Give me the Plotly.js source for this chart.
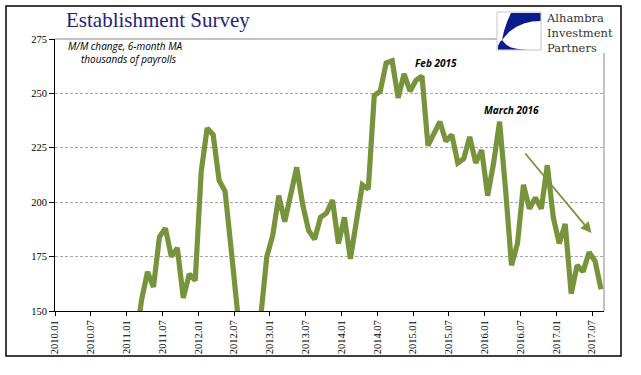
<!DOCTYPE html>
<html>
<head>
<meta charset="utf-8">
<script src="https://cdn.plot.ly/plotly-3.0.1.min.js"></script>
<style>
  html, body { margin: 0; padding: 0; background: #fff; }
  #chart { width: 641px; height: 375px; }
</style>
</head>
<body>
<div id="chart"></div>
<script>
// ---- Data ----
const months = [
  '2011.02','2011.03','2011.04','2011.05','2011.06','2011.07','2011.08','2011.09','2011.10','2011.11','2011.12',
  '2012.01','2012.02','2012.03','2012.04','2012.05','2012.06','2012.07','2012.08','2012.09','2012.10','2012.11','2012.12',
  '2013.01','2013.02','2013.03','2013.04','2013.05','2013.06','2013.07','2013.08','2013.09','2013.10','2013.11','2013.12',
  '2014.01','2014.02','2014.03','2014.04','2014.05','2014.06','2014.07','2014.08','2014.09','2014.10','2014.11','2014.12',
  '2015.01','2015.02','2015.03','2015.04','2015.05','2015.06','2015.07','2015.08','2015.09','2015.10','2015.11','2015.12',
  '2016.01','2016.02','2016.03','2016.04','2016.05','2016.06','2016.07','2016.08','2016.09','2016.10','2016.11','2016.12',
  '2017.01','2017.02','2017.03','2017.04','2017.05','2017.06','2017.07','2017.08'
];
const payrollsMA = [
  135, 155, 168, 161, 184, 188, 175, 179, 156, 167, 164,
  214, 234, 231, 210, 205, 179, 148, 125, 115, 128, 148, 175,
  185, 203, 191, 203, 216, 199, 187, 183, 193, 195, 201, 181,
  193, 174, 192, 208, 206, 249, 251, 264, 265, 248, 259, 251,
  256, 258, 226, 231, 237, 228, 231, 218, 220, 230, 218, 224,
  203, 218, 237, 206, 171, 181, 208, 197, 202, 197, 217, 193,
  181, 190, 158, 171, 168, 177, 173, 160
];
const tickLabels = ['2010.01','2010.07','2011.01','2011.07','2012.01','2012.07','2013.01','2013.07',
  '2014.01','2014.07','2015.01','2015.07','2016.01','2016.07','2017.01','2017.07'];
const yTicks = [150, 175, 200, 225, 250, 275];
const titleText = 'Establishment Survey';
const subtitleLines = ['M/M change, 6-month MA', 'thousands of payrolls'];
const logoLines = ['Alhambra', 'Investment', 'Partners'];
const callouts = ['Feb 2015', 'March 2016'];

// ---- Axis category list (monthly, 2010.01 .. 2017.08) ----
const allMonths = [];
for (let y = 2010; y <= 2017; y++) {
  for (let m = 1; m <= 12; m++) {
    if (y === 2017 && m > 8) break;
    allMonths.push(y + '.' + String(m).padStart(2, '0'));
  }
}
const xIdx = months.map(mo => allMonths.indexOf(mo));
const tickVals = tickLabels.map(t => allMonths.indexOf(t) - 0.5);

// ---- Geometry helpers (pixel -> paper) ----
const L = 55, T = 39, W = 549, H = 272;
const px = x => (x - L) / W;
const py = y => (T + H - y) / H;
function pathPx(pts) {
  return pts.map((p, i) => (i === 0 ? 'M ' : 'L ') + px(p[0]).toFixed(5) + ',' + py(p[1]).toFixed(5)).join(' ') + ' Z';
}

const green = '#77933C';
const navy = '#0B1A8C';

const trace = {
  x: xIdx,
  y: payrollsMA,
  type: 'scatter',
  mode: 'lines',
  line: {color: green, width: 5.2},
  hoverinfo: 'skip',
  showlegend: false
};

const shapes = [
  // top & right plot border
  {type: 'line', xref: 'paper', yref: 'paper', x0: 0, x1: px(497), y0: 1, y1: 1, line: {color: '#868686', width: 1}, layer: 'above'},
  {type: 'line', xref: 'paper', yref: 'paper', x0: 1, x1: 1, y0: 0, y1: py(53), line: {color: '#868686', width: 1}, layer: 'above'},
  // white area behind logo
  {type: 'rect', xref: 'paper', yref: 'paper', x0: px(497), x1: px(617), y0: py(52), y1: py(9), fillcolor: '#fff', line: {width: 0}, layer: 'above'},
  // logo box
  {type: 'rect', xref: 'paper', yref: 'paper', x0: px(497), x1: px(541), y0: py(50), y1: py(12), fillcolor: '#fff', line: {color: '#C8C8C8', width: 1}, layer: 'above'},
  // logo swooshes
  {type: 'path', xref: 'paper', yref: 'paper', layer: 'above', fillcolor: navy, line: {width: 0},
    path: pathPx([[511,13],[540.5,13],[540.5,21],[532,21.5],[524,23.5],[516,27],[509,32],[502,40],[504,31],[507,22]])},
  {type: 'path', xref: 'paper', yref: 'paper', layer: 'above', fillcolor: navy, line: {width: 0},
    path: pathPx([[502,40],[506,44.5],[511,47.5],[518,49],[528,49.5],[498,49.5],[498,46],[500,42]])},
  // outer frame
  {type: 'rect', xref: 'paper', yref: 'paper', x0: px(6), x1: px(621), y0: py(356), y1: py(6), line: {color: '#000', width: 1.5}, layer: 'above'}
];

const annotations = [
  {xref: 'paper', yref: 'paper', x: px(64), y: py(20), xanchor: 'left', yanchor: 'middle', showarrow: false,
    text: titleText, font: {family: 'Liberation Serif, serif', size: 21, color: '#1F237E'}},
  {xref: 'paper', yref: 'paper', x: px(66), y: py(52), xanchor: 'left', yanchor: 'middle', showarrow: false, align: 'left',
    text: '<i>' + subtitleLines[0] + '<br>&nbsp;&nbsp;&nbsp;&nbsp;&nbsp;' + subtitleLines[1] + '</i>',
    font: {family: 'Open Sans, sans-serif', size: 10, color: '#000'}},
  {xref: 'paper', yref: 'paper', x: px(436), y: py(63), xanchor: 'center', yanchor: 'middle', showarrow: false,
    text: '<b><i>' + callouts[0] + '</i></b>', font: {family: 'Open Sans, sans-serif', size: 10, color: '#000'}},
  {xref: 'paper', yref: 'paper', x: px(511), y: py(110), xanchor: 'center', yanchor: 'middle', showarrow: false,
    text: '<b><i>' + callouts[1] + '</i></b>', font: {family: 'Open Sans, sans-serif', size: 10, color: '#000'}},
  // trend arrow
  {xref: 'paper', yref: 'paper', x: px(591.5), y: py(233), ax: 524 - 591.5, ay: 152 - 233, axref: 'pixel', ayref: 'pixel',
    text: '', showarrow: true, arrowhead: 2, arrowsize: 1.2, arrowwidth: 1.8, arrowcolor: green, standoff: 0, startstandoff: 0},
  // logo text
  {xref: 'paper', yref: 'paper', x: px(544), y: py(33), xanchor: 'left', yanchor: 'middle', showarrow: false, align: 'left',
    text: logoLines.join('<br>'), font: {family: 'DejaVu Serif, serif', size: 11.5, color: '#333'}}
];

const tickFont = {family: 'Liberation Serif, Times New Roman, serif', size: 10.5, color: '#000'};

const layout = {
  width: 641, height: 375,
  margin: {l: L, r: 641 - L - W, t: T, b: 375 - T - H, pad: 0},
  paper_bgcolor: '#fff', plot_bgcolor: '#fff',
  showlegend: false,
  xaxis: {
    type: 'linear', range: [-0.5, allMonths.length - 0.5],
    tickmode: 'array', tickvals: tickVals, ticktext: tickLabels, tickangle: -90,
    ticks: 'outside', ticklen: 4, tickwidth: 1, tickcolor: '#000',
    showline: true, linecolor: '#000', linewidth: 1,
    showgrid: false, zeroline: false, tickfont: tickFont, fixedrange: true
  },
  yaxis: {
    range: [150, 275], tickmode: 'array', tickvals: yTicks,
    ticks: 'outside', ticklen: 5, tickwidth: 1, tickcolor: '#000',
    showline: true, linecolor: '#000', linewidth: 1,
    showgrid: true, gridcolor: '#A6A6A6', gridwidth: 1, griddash: '3px,2px',
    zeroline: false, tickfont: tickFont, fixedrange: true
  },
  shapes: shapes,
  annotations: annotations
};

Plotly.newPlot('chart', [trace], layout, {staticPlot: true, displayModeBar: false});
</script>
</body>
</html>
